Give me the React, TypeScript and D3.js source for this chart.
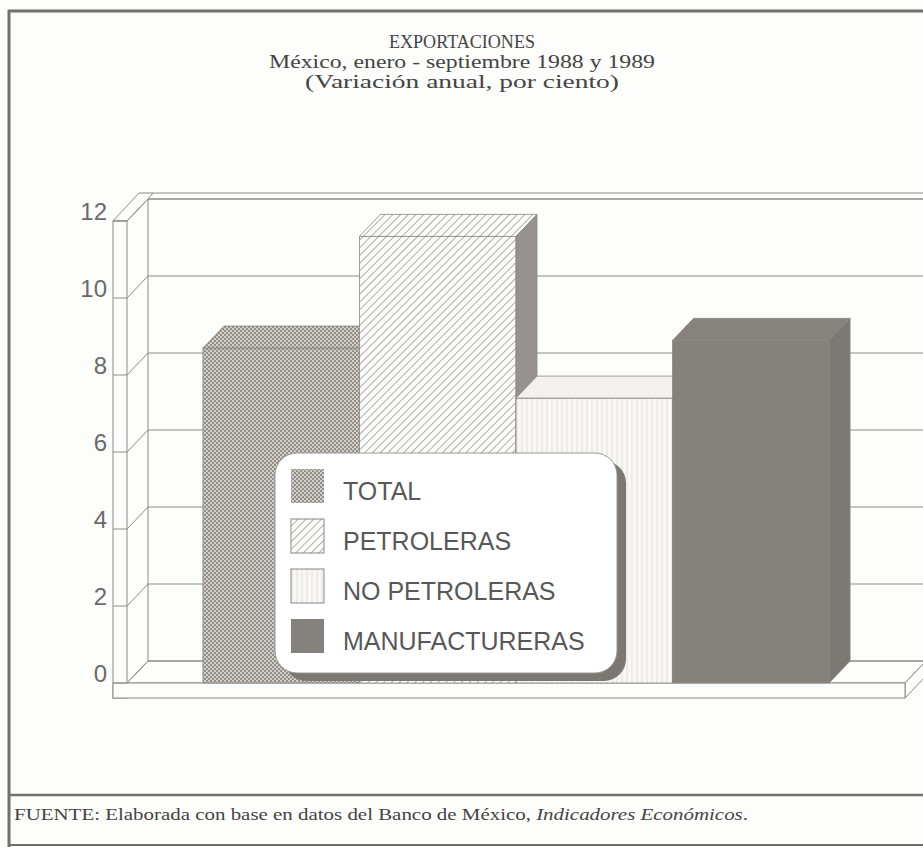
import React from 'react';
import * as d3 from 'd3';

const series = ['TOTAL', 'PETROLERAS', 'NO PETROLERAS', 'MANUFACTURERAS'];
const values = [8.7, 11.6, 7.4, 8.9];
const yTicks = [0, 2, 4, 6, 8, 10, 12];
const titleLines = [
  'EXPORTACIONES',
  'México, enero - septiembre 1988 y 1989',
  '(Variación anual, por ciento)',
];
const titleWidths = [146, 386, 314];
const sourceText = 'FUENTE: Elaborada con base en datos del Banco de México, ';
const sourceItalic = 'Indicadores Económicos';
// ——————————————————————————————

const W = 923;
const H = 847;

// 3D box layout
const wallOuter = 113;   // outer face of the left wall
const plotLeft = 127;    // inner front edge of the wall
const plotRight = 905;   // front right corner of the floor
const floorThick = 15;
const dx = 21;           // depth offset
const dy = -22;
const rim = { x: 5, y: -6 };

const line = '#8c8a86';

const y = d3.scaleLinear().domain([0, 12]).range([683, 221]);
const x = d3.scaleBand<string>()
  .domain(series)
  .range([plotLeft, plotRight])
  .paddingInner(0)
  .paddingOuter(0.485);

const fills: Record<string, { front: string; top: string; side: string }> = {
  TOTAL: { front: 'url(#dots)', top: 'url(#dots)', side: '#8d8984' },
  PETROLERAS: { front: 'url(#hatch)', top: 'url(#hatch)', side: '#96928d' },
  'NO PETROLERAS': { front: 'url(#vlines)', top: '#f2f1ed', side: '#d9d7d2' },
  MANUFACTURERAS: { front: '#85817c', top: '#86827d', side: '#7c7873' },
};

const pts = (p: number[][]) => p.map(d => d.join(',')).join(' ');

export default function App() {
  const base = y(0);
  const backRight = plotRight + dx;
  const top12 = y(12);

  return (
    <div style={{ position: 'absolute', left: 0, top: 0 }}>
      <svg width={W} height={H} style={{ display: 'block', background: '#fdfdfb' }}>
        <defs>
          <pattern id="dots" width={4} height={4} patternUnits="userSpaceOnUse">
            <rect width={4} height={4} fill="#928e89" />
            <circle cx={1} cy={1} r={1.1} fill="#dad6d0" />
            <circle cx={3} cy={3} r={1.1} fill="#dad6d0" />
          </pattern>
          <pattern id="hatch" width={5.5} height={5.5} patternUnits="userSpaceOnUse"
            patternTransform="rotate(45)">
            <rect width={5.5} height={5.5} fill="#fbfbf9" />
            <line x1={0} y1={0} x2={0} y2={5.5} stroke="#8a8681" strokeWidth={1.3} />
          </pattern>
          <pattern id="vlines" width={5} height={5} patternUnits="userSpaceOnUse">
            <rect width={5} height={5} fill="#f8f7f4" />
            <line x1={2} y1={0} x2={2} y2={5} stroke="#dddbd5" strokeWidth={0.8} />
          </pattern>
        </defs>

        {/* frame */}
        <line x1={8} y1={11} x2={W} y2={11} stroke="#707070" strokeWidth={3} />
        <line x1={9} y1={10} x2={9} y2={H} stroke="#707070" strokeWidth={3} />
        <line x1={8} y1={795} x2={W} y2={795} stroke="#707070" strokeWidth={2.5} />
        <line x1={8} y1={845} x2={W} y2={845} stroke="#707070" strokeWidth={2} />

        {/* titles */}
        {titleLines.map((t, i) => (
          <text key={t} x={462} y={48 + i * 20} textAnchor="middle"
            textLength={titleWidths[i]} lengthAdjust="spacingAndGlyphs"
            fontFamily="'Liberation Serif', serif" fontSize={18} fill="#444">
            {t}
          </text>
        ))}

        {/* back wall rim + left wall */}
        <polygon
          points={pts([[wallOuter, top12], [plotLeft, top12], [plotLeft + dx, top12 + dy],
            [backRight, top12 + dy], [backRight + rim.x, top12 + dy + rim.y],
            [wallOuter + dx + rim.x, top12 + dy + rim.y]])}
          fill="#fdfdfb" stroke={line} strokeWidth={1} />
        <line x1={plotLeft + dx} y1={top12 + dy} x2={plotLeft + dx + rim.x} y2={top12 + dy + rim.y}
          stroke={line} />
        <rect x={wallOuter} y={top12} width={plotLeft - wallOuter} height={base + floorThick - top12}
          fill="#fdfdfb" stroke={line} />
        <line x1={plotLeft + dx} y1={top12 + dy} x2={plotLeft + dx} y2={base + dy} stroke={line} />

        {/* floor */}
        <polygon
          points={pts([[plotLeft, base], [plotLeft + dx, base + dy], [backRight, base + dy],
            [plotRight, base]])}
          fill="#fdfdfb" stroke={line} />
        <polygon
          points={pts([[plotRight, base], [backRight, base + dy], [backRight, base + dy + floorThick],
            [plotRight, base + floorThick]])}
          fill="#fdfdfb" stroke={line} />
        <rect x={wallOuter} y={base} width={plotRight - wallOuter} height={floorThick}
          fill="#fdfdfb" stroke={line} />

        {/* ticks, gridlines, labels */}
        {yTicks.map(t => (
          <g key={t}>
            <line x1={wallOuter} y1={y(t)} x2={plotLeft} y2={y(t)} stroke={line} />
            <line x1={plotLeft} y1={y(t)} x2={plotLeft + dx} y2={y(t) + dy} stroke={line} />
            <line x1={plotLeft + dx} y1={y(t) + dy} x2={backRight + 4} y2={y(t) + dy}
              stroke={line} strokeWidth={1.2} />
            <text x={107} y={y(t) - 1} textAnchor="end" fontFamily="'Liberation Sans', Arial, sans-serif"
              fontSize={24} fill="#6a6a6a">{t}</text>
          </g>
        ))}

        {/* bars */}
        {series.map((s, i) => {
          const x0 = x(s)!;
          const w = x.bandwidth();
          const yt = y(values[i]);
          const f = fills[s];
          return (
            <g key={s} stroke="#8a8783" strokeWidth={0.8}>
              <rect x={x0} y={yt} width={w} height={base - yt} fill={f.front} />
              <polygon points={pts([[x0, yt], [x0 + dx, yt + dy], [x0 + w + dx, yt + dy], [x0 + w, yt]])}
                fill={f.top} />
              <polygon points={pts([[x0 + w, yt], [x0 + w + dx, yt + dy], [x0 + w + dx, base + dy],
                [x0 + w, base]])} fill={f.side} />
            </g>
          );
        })}

        {/* legend */}
        <g>
          <rect x={284} y={461} width={342} height={220} rx={22} fill="#7b7773" />
          <rect x={275} y={453} width={342} height={220} rx={22} fill="#ffffff"
            stroke="#9a9894" strokeWidth={1} />
          {series.map((s, i) => (
            <g key={s}>
              <rect x={291} y={469 + i * 50} width={33} height={34}
                fill={s === 'NO PETROLERAS' ? 'url(#vlines)' : fills[s].front}
                stroke={s === 'TOTAL' || s === 'MANUFACTURERAS' ? 'none' : '#8a8783'} />
              <text x={343} y={500 + i * 50} fontFamily="'Liberation Sans', Arial, sans-serif"
                fontSize={25} fill="#585858">{s}</text>
            </g>
          ))}
        </g>

        {/* source */}
        <text x={14} y={820} textLength={734} lengthAdjust="spacingAndGlyphs"
          fontFamily="'Liberation Serif', serif" fontSize={17} fill="#444">
          {sourceText}
          <tspan fontStyle="italic">{sourceItalic}</tspan>.
        </text>
      </svg>
    </div>
  );
}
